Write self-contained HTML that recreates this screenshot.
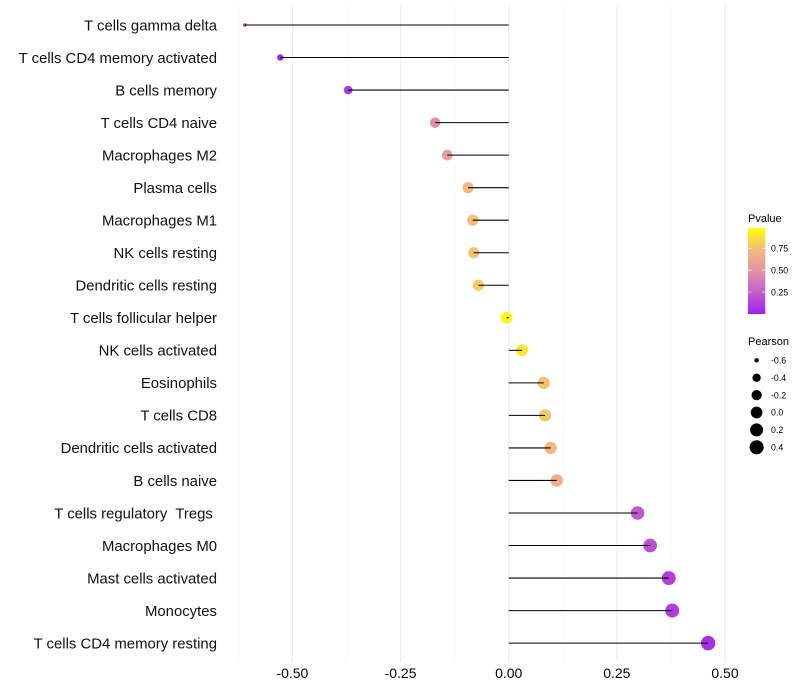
<!DOCTYPE html>
<html lang="en">
<head>
<meta charset="utf-8">
<title>Pearson correlation lollipop chart</title>
<style>
html,body{margin:0;padding:0;background:#fff;}
svg{display:block;font-family:"Liberation Sans",sans-serif;}
</style>
</head>
<body>
<svg id="chart" xmlns="http://www.w3.org/2000/svg" width="800" height="700" viewBox="0 0 800 700">
  <defs>
    <linearGradient id="pvalue-gradient" x1="0" y1="1" x2="0" y2="0">
      <stop offset="0" stop-color="#A020F0"/>
      <stop offset="0.255" stop-color="#C65FCB"/>
      <stop offset="0.51" stop-color="#E694A4"/>
      <stop offset="0.765" stop-color="#F4BE78"/>
      <stop offset="1" stop-color="#FFFF00"/>
    </linearGradient>
  </defs>
  <g id="grid"></g>
  <g id="points"></g>
  <g id="sticks-top"></g>
  <g id="y-labels"></g>
  <g id="x-labels"></g>
  <g id="legend-p">
    <text x="748" y="222" font-size="11" fill="#000">Pvalue</text>
    <rect x="748" y="228" width="17.3" height="86" fill="url(#pvalue-gradient)"/>
  </g>
  <g id="legend-s">
    <text x="748" y="345" font-size="11" fill="#000">Pearson</text>
  </g>
</svg>
<script>
const categories = ["T cells gamma delta","T cells CD4 memory activated","B cells memory","T cells CD4 naive","Macrophages M2","Plasma cells","Macrophages M1","NK cells resting","Dendritic cells resting","T cells follicular helper","NK cells activated","Eosinophils","T cells CD8","Dendritic cells activated","B cells naive","T cells regulatory  Tregs ","Macrophages M0","Mast cells activated","Monocytes","T cells CD4 memory resting"];
const pearson = [-0.61,-0.528,-0.371,-0.17,-0.142,-0.094,-0.083,-0.081,-0.07,-0.005,0.031,0.081,0.084,0.097,0.111,0.298,0.327,0.37,0.378,0.461];
const pvalue = [0.003,0.02,0.1,0.46,0.56,0.72,0.75,0.76,0.8,0.98,0.9,0.76,0.78,0.72,0.66,0.22,0.19,0.12,0.11,0.06];
const xMajorTicks = [-0.5,-0.25,0,0.25,0.5];
const xMinorTicks = [-0.625,-0.375,-0.125,0.125,0.375];
const xTickLabels = ["-0.50","-0.25","0.00","0.25","0.50"];
const colorbarTicks = [0.75,0.5,0.25];
const colorbarLabels = ["0.75","0.50","0.25"];
const sizeLegendValues = [-0.6,-0.4,-0.2,0,0.2,0.4];
const sizeLegendLabels = ["-0.6","-0.4","-0.2","0.0","0.2","0.4"];
const colorStops = [[0,160,32,240],[0.25,198,95,203],[0.5,230,148,164],[0.75,244,190,120],[1,255,255,0]];

const NS = "http://www.w3.org/2000/svg";
const xScale = v => 508.7 + v * 432.6;
const yScale = i => 25 + i * 32.533;
const pToY = p => 314 - p * 87.6;
const sizeMin = -0.61, sizeMax = 0.461;
const rScale = v => 1.7 + 5.5 * Math.sqrt(Math.max(0, (v - sizeMin) / (sizeMax - sizeMin)));
function colorScale(p) {
  for (let i = 1; i < colorStops.length; i++) {
    if (p <= colorStops[i][0]) {
      const a = colorStops[i - 1], b = colorStops[i];
      const t = (p - a[0]) / (b[0] - a[0]);
      return "rgb(" + [1, 2, 3].map(k => Math.round(a[k] + (b[k] - a[k]) * t)).join(",") + ")";
    }
  }
  return "rgb(255,255,0)";
}
function make(tag, attrs, parent) {
  const el = document.createElementNS(NS, tag);
  for (const k in attrs) el.setAttribute(k, attrs[k]);
  parent.appendChild(el);
  return el;
}
const grid = document.getElementById("grid");
const points = document.getElementById("points");
const sticksTop = document.getElementById("sticks-top");
const yLabels = document.getElementById("y-labels");
const xLabels = document.getElementById("x-labels");
const legendP = document.getElementById("legend-p");
const legendS = document.getElementById("legend-s");

xMinorTicks.forEach(v => {
  const el = make("line", {x1: xScale(v), x2: xScale(v), y1: 5, y2: 662, stroke: "#f2f2f2", "stroke-width": 0.6}, grid);
  
  
});
xMajorTicks.forEach((v, i) => {
  const el = make("line", {x1: xScale(v), x2: xScale(v), y1: 5, y2: 662, stroke: "#ebebeb", "stroke-width": 1.05}, grid);
  
  
  const t = make("text", {x: xScale(v), y: 678, "text-anchor": "middle", "font-size": 14, fill: "#000"}, xLabels);
  t.textContent = xTickLabels[i];
  
  
});
categories.forEach((c, i) => {
  const y = yScale(i);
  const t = make("text", {x: 217, y: y + 5.3, "text-anchor": "end", "font-size": 14.9, fill: "#111"}, yLabels);
  t.style.whiteSpace = "pre";
  t.textContent = c;
  
  
  const p = make("circle", {cx: xScale(pearson[i]), cy: y, r: rScale(pearson[i]), fill: colorScale(pvalue[i])}, points);
  
  
  const s = make("line", {x1: xScale(0), x2: xScale(pearson[i]), y1: y, y2: y, stroke: "#000", "stroke-width": 1.05}, sticksTop);
  
  
});
colorbarTicks.forEach((p, i) => {
  const y = pToY(p);
  const a = make("line", {x1: 748, x2: 751.5, y1: y, y2: y, stroke: "#fff", "stroke-width": 0.8, opacity: 0.8}, legendP);
  
  
  const b = make("line", {x1: 761.8, x2: 765.3, y1: y, y2: y, stroke: "#fff", "stroke-width": 0.8, opacity: 0.8}, legendP);
  
  
  const t = make("text", {x: 771, y: y + 3.2, "font-size": 8.8, fill: "#000"}, legendP);
  t.textContent = colorbarLabels[i];
  
  
});
sizeLegendValues.forEach((v, i) => {
  const y = 360.3 + i * 17.4;
  const c = make("circle", {cx: 756.6, cy: y, r: rScale(v), fill: "#000"}, legendS);
  
  
  const t = make("text", {x: 771, y: y + 3.2, "font-size": 8.8, fill: "#000"}, legendS);
  t.textContent = sizeLegendLabels[i];
  
  
});
</script>
</body>
</html>
